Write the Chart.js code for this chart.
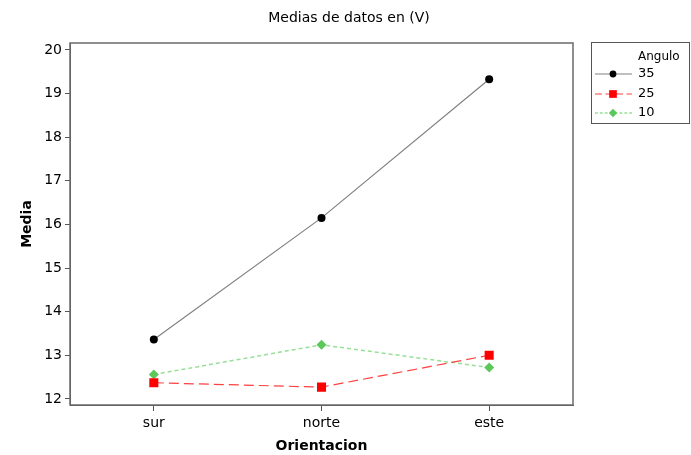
<!DOCTYPE html>
<html>
<head>
<meta charset="utf-8">
<script src="https://cdn.jsdelivr.net/npm/chart.js@4.4.1/dist/chart.umd.min.js"></script>
<style>
html,body{margin:0;padding:0;background:#fff;}
#wrap{position:relative;width:691px;height:455px;}
</style>
</head>
<body>
<div id="wrap"><canvas id="c" width="691" height="455"></canvas></div>
<script>
const categories = ["sur", "norte", "este"];
const seriesNames = ["35", "25", "10"];
const values35 = [13.36, 16.15, 19.33];
const values25 = [12.37, 12.27, 13.00];
const values10 = [12.56, 13.24, 12.72];
const yTicks = [12, 13, 14, 15, 16, 17, 18, 19, 20];
const legendTitle = "Angulo";
const chartTitle = "Medias de datos en (V)";
const xTitle = "Orientacion";
const yTitle = "Media";

const FONT = "'DejaVu Sans', Verdana, sans-serif";

const styles = [
  {line: "#808080", point: "#000000", style: "circle", r: 4, dash: [], lw: 1.2},
  {line: "#ff4040", point: "#ff0000", style: "rect", r: 6.4, dash: [10, 5], lw: 1.2},
  {line: "#96e096", point: "#5cc85c", style: "rectRot", r: 5, dash: [4, 3], lw: 1.5}
];
const seriesData = [values35, values25, values10];

const datasets = seriesNames.map((n, i) => ({
  label: n,
  data: seriesData[i],
  borderColor: styles[i].line,
  borderWidth: styles[i].lw,
  borderDash: styles[i].dash,
  pointStyle: styles[i].style,
  pointRadius: styles[i].r,
  pointHoverRadius: styles[i].r,
  pointBackgroundColor: styles[i].point,
  pointBorderColor: styles[i].point,
  pointBorderWidth: 0,
  tension: 0,
  fill: false
}));

const framePlugin = {
  id: "frame",
  afterDraw(chart) {
    const {ctx, chartArea: a} = chart;
    ctx.save();
    ctx.strokeStyle = "#6a6a6a";
    ctx.lineWidth = 1.5;
    ctx.strokeRect(a.left, a.top, a.right - a.left, a.bottom - a.top);
    // title
    ctx.fillStyle = "#000";
    ctx.font = "14px " + FONT;
    ctx.textAlign = "center";
    ctx.textBaseline = "middle";
    ctx.fillText(chartTitle, 349, 18);
    // legend box
    const bx = 591.5, by = 42.5, bw = 98, bh = 81;
    ctx.strokeStyle = "#555";
    ctx.lineWidth = 1;
    ctx.strokeRect(bx, by, bw, bh);
    ctx.fillStyle = "#000";
    ctx.font = "12px " + FONT;
    ctx.textAlign = "left";
    ctx.fillText(legendTitle, 638, 57);
    const ys = [74, 94, 113];
    seriesNames.forEach((n, i) => {
      const s = styles[i];
      ctx.save();
      ctx.strokeStyle = s.line;
      ctx.lineWidth = s.lw;
      ctx.setLineDash(s.dash.map(d => d * 0.7));
      ctx.beginPath();
      ctx.moveTo(595, ys[i]);
      ctx.lineTo(632, ys[i]);
      ctx.stroke();
      ctx.restore();
      ctx.save();
      ctx.fillStyle = s.point;
      ctx.strokeStyle = s.point;
      Chart.helpers.drawPoint(ctx, {pointStyle: s.style, radius: s.r * 0.85, borderWidth: 0}, 613, ys[i]);
      ctx.restore();
      ctx.fillStyle = "#000";
      ctx.font = "13px " + FONT;
      ctx.fillText(n, 638, ys[i]);
    });
    ctx.restore();
  }
};

new Chart(document.getElementById("c"), {
  type: "line",
  data: {labels: categories, datasets},
  plugins: [framePlugin],
  options: {
    responsive: false,
    animation: false,
    events: [],
    layout: {padding: {left: 0, right: 118, top: 43, bottom: 0}},
    plugins: {
      legend: {display: false},
      tooltip: {enabled: false},
      title: {display: false}
    },
    scales: {
      x: {
        type: "category",
        offset: true,
        afterFit(s) { s.height = 50; },
        grid: {display: true, drawOnChartArea: false, drawTicks: true, tickLength: 6, color: "#555", offset: false},
        border: {display: true, color: "#555"},
        ticks: {color: "#000", font: {family: FONT, size: 14}, padding: 4},
        title: {display: true, text: xTitle, color: "#000", font: {family: FONT, size: 14, weight: "bold"}, padding: {top: 2, bottom: 0}}
      },
      y: {
        type: "linear",
        min: 11.86,
        max: 20.16,
        afterFit(s) { s.width = 70; },
        afterBuildTicks(s) { s.ticks = yTicks.map(v => ({value: v})); },
        grid: {display: true, drawOnChartArea: false, drawTicks: true, tickLength: 5, color: "#555"},
        border: {display: true, color: "#555"},
        ticks: {color: "#000", font: {family: FONT, size: 14}, padding: 3},
        title: {display: true, text: yTitle, color: "#000", font: {family: FONT, size: 14, weight: "bold"}, padding: {top: 19, bottom: 0}}
      }
    }
  }
});
</script>
</body>
</html>
